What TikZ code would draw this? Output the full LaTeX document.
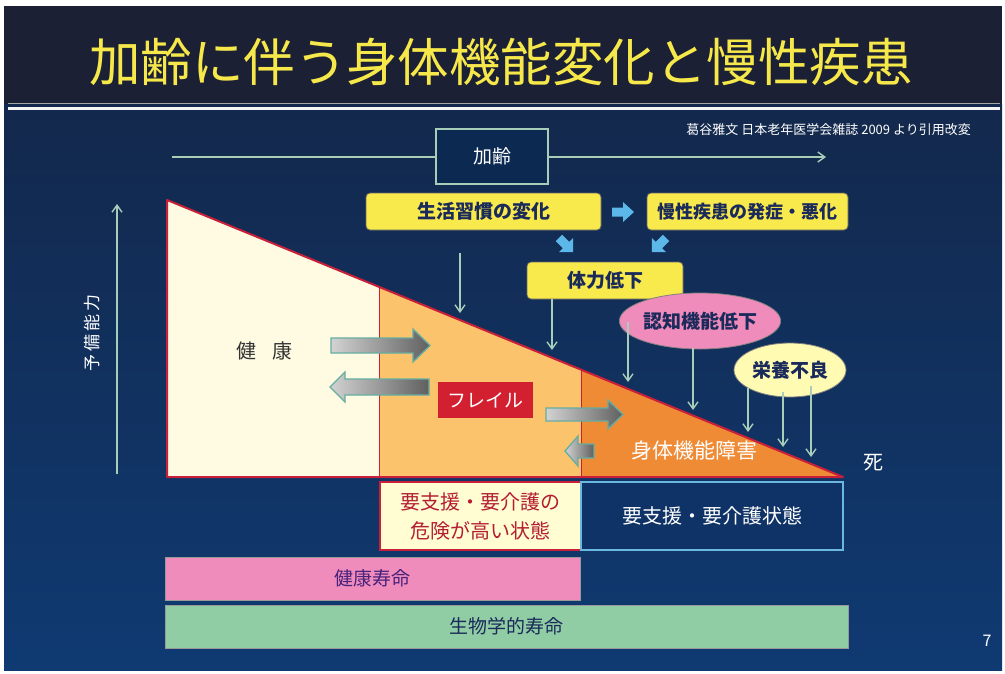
\documentclass[tikz,border=0pt]{standalone}
\usepackage{fontspec}
\setmainfont{Noto Sans CJK JP}
\usetikzlibrary{arrows.meta,shapes.geometric}
\definecolor{bgtop}{HTML}{1B2034}
\definecolor{bgmid}{HTML}{13284C}
\definecolor{bgbot}{HTML}{0F3A72}
\definecolor{ttlyellow}{HTML}{F6E84A}
\definecolor{boxyellow}{HTML}{F8E94C}
\definecolor{navytext}{HTML}{1A2A5A}
\definecolor{arrowgreen}{HTML}{A8CDB8}
\definecolor{tricream}{HTML}{FFFBE3}
\definecolor{trilight}{HTML}{FBC36B}
\definecolor{triorange}{HTML}{EF8A35}
\definecolor{trired}{HTML}{C8203A}
\definecolor{frailred}{HTML}{D32030}
\definecolor{pinkfill}{HTML}{F08CBC}
\definecolor{greenfill}{HTML}{90CCA4}
\definecolor{careblue}{HTML}{6AB8E0}
\definecolor{boxnavy}{HTML}{0F3366}
\definecolor{skyblue}{HTML}{5BB8E8}
\tikzset{
  ybox/.style={draw=black!60, fill=boxyellow, rounded corners=4pt, line width=0.8pt,
    text=navytext, font=\fontsize{19}{22}\selectfont\bfseries, inner sep=0pt},
  thinarrow/.style={draw=arrowgreen, line width=1.4pt, -{Straight Barb[length=7pt,width=10pt]}},
  grayarrow/.style={draw=arrowgreen!60!teal, line width=1.3pt, left color=gray!35, right color=gray!75!black},
  bluearrow/.style={fill=skyblue, draw=none},
  bar/.style={draw=black!40, line width=0.8pt, inner sep=0pt, font=\fontsize{19}{22}\selectfont},
  lbl/.style={inner sep=0pt}
}
\begin{document}
\begin{tikzpicture}[x=1pt,y=-1pt]
\useasboundingbox (0,0) rectangle (1005,673);
\fill[white] (0,0) rectangle (1005,673);
% background
\fill[bgtop] (4,6) rectangle (1002,104);
\shade[top color=bgmid, bottom color=bgbot] (4,104) rectangle (1002,670);
\draw[gray!70, line width=1pt] (8,103.5) -- (1000,103.5);
\draw[white!92!gray, line width=3pt] (8,108) -- (1000,108);
% title
\node[lbl, text=ttlyellow, font=\fontsize{51.5}{56}\selectfont] (title) at (501,62) {加齢に伴う身体機能変化と慢性疾患};
\node[lbl, anchor=east, text=white, font=\fontsize{13}{15}\selectfont] (cite) at (971,130) {葛谷雅文 日本老年医学会雑誌 2009 より引用改変};
% aging axis
\node[draw=arrowgreen, line width=2pt, fill=boxnavy!80!black, minimum width=112pt, minimum height=55pt, inner sep=0pt,
  text=white, font=\fontsize{19}{22}\selectfont] (aging) at (492,156) {加齢};
\coordinate (axl) at (172,157);
\coordinate (axr) at (826,157);
\draw[draw=arrowgreen, line width=1.4pt] (axl) -- (aging.west |- axl);
\draw[thinarrow] (aging.east |- axr) -- (axr);
% reserve axis
\coordinate (rvb) at (117,474);
\coordinate (rvt) at (117,204);
\draw[thinarrow] (rvb) -- (rvt);
\node[lbl, rotate=90, text=white, font=\fontsize{17}{20}\selectfont] (reserve) at (92,333) {予\,備\,能\,力};
% triangle
\coordinate (A) at (167,200);
\coordinate (B1) at (379,286.9);
\coordinate (B2) at (581,369.6);
\coordinate (D) at (843,477);
\fill[tricream] (A) -- (B1) -- (379,477) -- (167,477) -- cycle;
\fill[trilight] (B1) -- (B2) -- (581,477) -- (379,477) -- cycle;
\fill[triorange] (B2) -- (D) -- (581,477) -- cycle;
\draw[trired, line width=1pt] (B1) -- (379,477) (B2) -- (581,477);
\draw[trired, line width=2pt, line join=round] (A) -- (D) -- (167,477) -- cycle;
% labels in triangle
\node[lbl, text=black!80, font=\fontsize{20}{22}\selectfont] (kenko) at (264,351) {健\hspace{0.8em}康};
\node[fill=frailred, minimum width=95pt, minimum height=36pt, inner sep=0pt, text=white,
  font=\fontsize{19}{22}\selectfont] (frail) at (485.5,400) {フレイル};
\node[lbl, text=white, font=\fontsize{21}{24}\selectfont] (disab) at (694,451) {身体機能障害};
\node[lbl, text=white, font=\fontsize{20}{22}\selectfont] (death) at (873,463) {死};
% gray block arrows
\path[grayarrow] (331,338) -- (413,338) -- (413,329) -- (430,345.5) -- (413,362) -- (413,353) -- (331,353) -- cycle;
\path[grayarrow] (429,379) -- (345,379) -- (345,372) -- (330,387) -- (345,402) -- (345,395) -- (429,395) -- cycle;
\path[grayarrow] (546,408) -- (608,408) -- (608,400) -- (623,414.5) -- (608,429) -- (608,421) -- (546,421) -- cycle;
\path[grayarrow] (594,444) -- (578,444) -- (578,436) -- (565,451) -- (578,466) -- (578,458) -- (594,458) -- cycle;
% yellow boxes
\node[ybox, minimum width=235pt, minimum height=37pt] (life) at (483.5,211.5) {生活習慣の変化};
\node[ybox, minimum width=201pt, minimum height=37pt, font=\fontsize{18}{22}\selectfont\bfseries] (chronic) at (747.5,211.5) {慢性疾患の発症・悪化};
\node[ybox, minimum width=156pt, minimum height=37pt] (stamina) at (605,280.5) {体力低下};
% small blue block arrows
\path[bluearrow, shift={(623,212)}] (-11,-4.5) -- (0,-4.5) -- (0,-10) -- (11,0) -- (0,10) -- (0,4.5) -- (-11,4.5) -- cycle;
\path[bluearrow, shift={(566,245)}, rotate=-45] (-10,-4.5) -- (0,-4.5) -- (0,-10) -- (10,0) -- (0,10) -- (0,4.5) -- (-10,4.5) -- cycle;
\path[bluearrow, shift={(659,245)}, rotate=-135] (-10,-4.5) -- (0,-4.5) -- (0,-10) -- (10,0) -- (0,10) -- (0,4.5) -- (-10,4.5) -- cycle;
% ellipses
\node[ellipse, draw=black!50, line width=0.8pt, fill=pinkfill, minimum width=136pt, minimum height=56pt, inner sep=0pt,
  text=navytext, font=\fontsize{19}{22}\selectfont\bfseries] (cog) at (700,321) {認知機能低下};
\node[ellipse, draw=black!50, line width=0.8pt, fill=yellow!30!white, minimum width=112pt, minimum height=54pt, inner sep=0pt,
  text=navytext, font=\fontsize{19}{22}\selectfont\bfseries] (nutr) at (790,370) {栄養不良};
% thin arrows
\coordinate (t1s) at (460,253); \coordinate (t1e) at (460,313);
\coordinate (t2e) at (552,350);
\coordinate (t3s) at (628,322); \coordinate (t3e) at (628,382);
\coordinate (t4e) at (693,410);
\coordinate (t5e) at (748,432);
\coordinate (t6e) at (783,447);
\coordinate (t7e) at (811,457);
\draw[thinarrow] (t1s) -- (t1e);
\draw[thinarrow] (stamina.south -| t2e) -- (t2e);
\draw[thinarrow] (t3s) -- (t3e);
\draw[thinarrow] (cog.south -| t4e) ++(0,-1) -- (t4e);
\draw[thinarrow] (748,388) -- (t5e);
\draw[thinarrow] (783,392) -- (t6e);
\draw[thinarrow] (811,386) -- (t7e);
% bottom boxes
\node[draw=trired, line width=1.6pt, fill=yellow!18!white, minimum width=201pt, minimum height=68pt, inner sep=0pt,
  text=trired!90!black, align=center, font=\fontsize{20}{29}\selectfont] (risk) at (480.5,516) {要支援・要介護の\\危険が高い状態};
\node[draw=careblue, line width=1.4pt, fill=boxnavy, minimum width=262pt, minimum height=68pt, inner sep=0pt,
  text=white, font=\fontsize{20}{22}\selectfont] (care) at (712,516) {要支援・要介護状態};
\node[bar, fill=pinkfill, minimum width=415pt, minimum height=43pt, text=navytext!80!magenta] (hle) at (372.5,578.5) {健康寿命};
\node[bar, fill=greenfill, minimum width=683pt, minimum height=43pt, text=navytext] (ble) at (506.5,626.5) {生物学的寿命};
\node[lbl, text=white, font=\fontsize{16}{18}\selectfont] (pg) at (987,641) {7};
\end{tikzpicture}
\end{document}
